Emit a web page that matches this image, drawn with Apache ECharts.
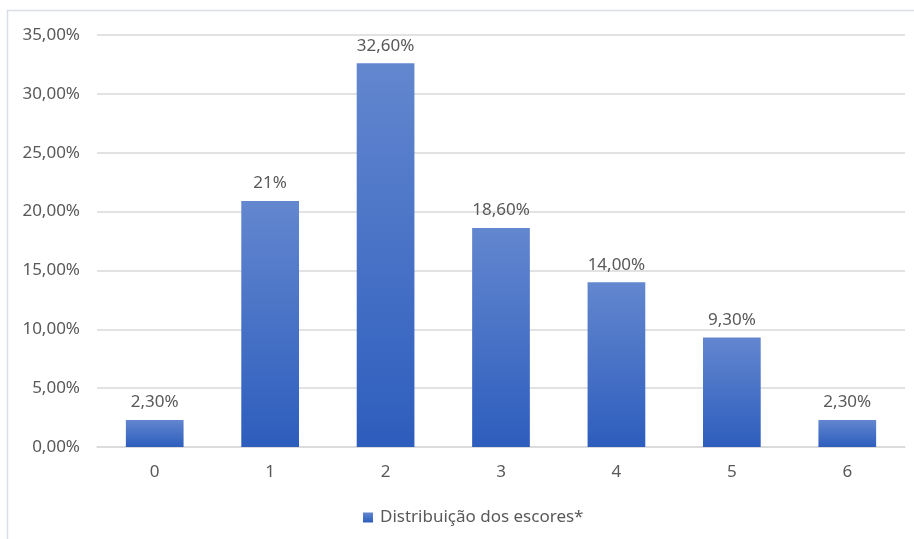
<!DOCTYPE html>
<html><head><meta charset="utf-8">
<script src="https://cdn.jsdelivr.net/npm/echarts@6/dist/echarts.min.js"></script>
<style>html,body{margin:0;padding:0;background:#fff}#c{width:914px;height:539px}</style>
</head><body><div id="c"></div>
<script>
const categories = ['0','1','2','3','4','5','6'];
const values = [2.3, 20.9, 32.6, 18.6, 14, 9.3, 2.3];
const valueLabels = ['2,30%','21%','32,60%','18,60%','14,00%','9,30%','2,30%'];
const seriesName = 'Distribuição dos escores*';
const yMin = 0, yMax = 35, yStep = 5;

const chart = echarts.init(document.getElementById('c'));
const font = '"Noto Sans", "Open Sans", sans-serif';
const grad = new echarts.graphic.LinearGradient(0,0,0,1,[{offset:0,color:'#6387CF'},{offset:1,color:'#2D5DBD'}]);
chart.setOption({
  animation:false,
  graphic:[{type:'rect',shape:{x:7.5,y:10.5,width:920,height:540},style:{fill:'none',stroke:'#d9dde5',lineWidth:1.5},silent:true}],
  grid:{left:97,right:9,top:35,bottom:92},
  legend:{bottom:8,left:358,itemWidth:10,itemHeight:10,itemGap:6,icon:'rect',textStyle:{fontFamily:font,fontSize:17,color:'#595959',padding:[0,0,0,2]},data:[seriesName]},
  xAxis:{type:'category',data:categories,axisLine:{lineStyle:{color:'#d9d9d9',width:1.5}},axisTick:{show:false},
    axisLabel:{fontFamily:font,fontSize:17,color:'#595959',margin:17}},
  yAxis:{type:'value',min:yMin,max:yMax,interval:yStep,axisLine:{show:false},axisTick:{show:false},
    splitLine:{lineStyle:{color:'#d9d9d9',width:1.5}},
    axisLabel:{fontFamily:font,fontSize:17,color:'#595959',margin:17,formatter:v=>v.toFixed(2).replace('.',',')+'%'}},
  series:[{name:seriesName,type:'bar',barWidth:'50%',data:values,itemStyle:{color:grad},
    label:{show:true,position:'top',distance:9,fontFamily:font,fontSize:17,color:'#595959',formatter:p=>valueLabels[p.dataIndex]}}]
});
</script></body></html>
